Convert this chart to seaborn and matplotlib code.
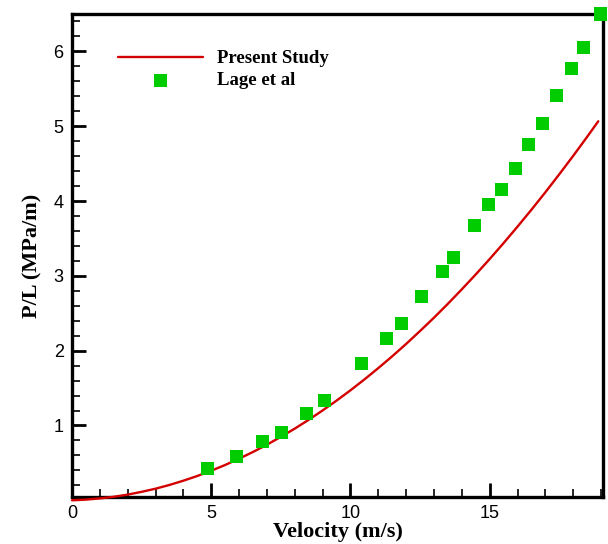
import matplotlib
matplotlib.use("Agg")
import matplotlib.pyplot as plt
import seaborn as sns
import pandas as pd
from matplotlib.ticker import MultipleLocator

# Present Study (line)
present_velocity = [0, 0.5, 1, 1.5, 2, 2.5, 3, 3.5, 4, 4.5, 5, 5.5, 6, 6.5, 7, 7.5, 8, 8.5,
                    9, 9.5, 10, 10.5, 11, 11.5, 12, 12.5, 13, 13.5, 14, 14.5, 15, 15.5,
                    16, 16.5, 17, 17.5, 18, 18.5, 18.9]
present_pl = [0.0, 0.009, 0.025, 0.047, 0.076, 0.113, 0.155, 0.205, 0.262, 0.325, 0.395,
              0.472, 0.556, 0.646, 0.743, 0.848, 0.958, 1.076, 1.201, 1.332, 1.470, 1.615,
              1.767, 1.925, 2.090, 2.263, 2.441, 2.627, 2.820, 3.019, 3.225, 3.438, 3.658,
              3.884, 4.117, 4.358, 4.604, 4.858, 5.066]

# Lage et al (squares)
lage_velocity = [4.88, 5.90, 6.83, 7.54, 8.43, 9.08, 10.39, 11.29, 11.85, 12.56, 13.31,
                 13.71, 14.46, 14.97, 15.42, 15.92, 16.40, 16.88, 17.40, 17.94, 18.37, 18.97]
lage_pl = [0.42, 0.58, 0.78, 0.91, 1.16, 1.33, 1.83, 2.16, 2.36, 2.72, 3.06,
           3.25, 3.67, 3.95, 4.15, 4.43, 4.75, 5.03, 5.41, 5.77, 6.05, 6.50]

x_major_ticks = [0, 5, 10, 15]
y_major_ticks = [1, 2, 3, 4, 5, 6]

sns.set_style("ticks")
plt.rcParams['font.family'] = ['Liberation Sans', 'DejaVu Sans']

fig = plt.figure(figsize=(6.08, 5.44), dpi=100)
ax = fig.add_axes([72/608, 1 - 497/544, (603-72)/608, (497-14)/544])

df_line = pd.DataFrame({"v": present_velocity, "pl": present_pl})
df_pts = pd.DataFrame({"v": lage_velocity, "pl": lage_pl})

sns.lineplot(data=df_line, x="v", y="pl", ax=ax, color="#d40000", linewidth=1.7,
             label="Present Study", zorder=4, clip_on=False)
sns.scatterplot(data=df_pts, x="v", y="pl", ax=ax, marker="s", s=88, color="#00cc00",
                edgecolor="none", linewidth=0, label="Lage et al", zorder=5, clip_on=False)

ax.set_xlim(0, 19.07)
ax.set_ylim(0.044, 6.5)
ax.set_xticks(x_major_ticks)
ax.set_yticks(y_major_ticks)
ax.xaxis.set_minor_locator(MultipleLocator(1))
ax.yaxis.set_minor_locator(MultipleLocator(0.2))
ax.tick_params(which="major", direction="in", length=10, width=2, labelsize=13,
               top=False, right=False, pad=6, colors="black", labelcolor="black")
ax.tick_params(which="minor", direction="in", length=6, width=1.2, top=False, right=False,
               colors="black")
for sp in ax.spines.values():
    sp.set_linewidth(2.4)
    sp.set_color("black")
    sp.set_visible(True)

serif_bold = dict(family=["Liberation Serif", "DejaVu Serif"], weight="bold", size=16,
                  color="black")
ax.set_xlabel("Velocity (m/s)", fontdict=serif_bold, labelpad=0)
ax.set_ylabel("P/L (MPa/m)", fontdict=serif_bold, labelpad=8)

leg = ax.legend(loc="upper left", bbox_to_anchor=(0.087, 0.925), frameon=False,
                borderpad=0, borderaxespad=0, handlelength=4.5, handletextpad=0.75,
                labelspacing=0.25, prop=dict(family=["Liberation Serif", "DejaVu Serif"],
                                             weight="bold", size=13.5))
for t in leg.get_texts():
    t.set_color("black")

fig.savefig("out.png", dpi=100)
